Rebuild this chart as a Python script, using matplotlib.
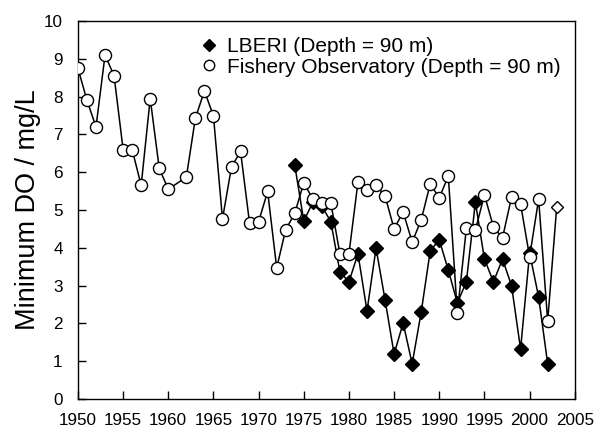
'''

  Minimum DO at 90 m depth: LBERI vs Fishery Observatory

'''

import numpy as np
from matplotlib import pyplot as plt
from matplotlib.lines import Line2D
from matplotlib import font_manager

plt.rcParams['font.family'] = ['Liberation Sans', 'DejaVu Sans']

# Fishery Observatory (1961 missing)
fish_year = [1950, 1951, 1952, 1953, 1954, 1955, 1956, 1957, 1958, 1959, 1960,
             1962, 1963, 1964, 1965, 1966, 1967, 1968, 1969, 1970, 1971, 1972,
             1973, 1974, 1975, 1976, 1977, 1978, 1979, 1980, 1981, 1982, 1983,
             1984, 1985, 1986, 1987, 1988, 1989, 1990, 1991, 1992, 1993, 1994,
             1995, 1996, 1997, 1998, 1999, 2000, 2001, 2002]
fish_do = [8.75, 7.9, 7.2, 9.1, 8.55, 6.6, 6.6, 5.65, 7.95, 6.1, 5.55,
           5.87, 7.43, 8.15, 7.49, 4.76, 6.14, 6.55, 4.65, 4.69, 5.49, 3.47,
           4.48, 4.91, 5.72, 5.29, 5.18, 5.18, 3.84, 3.84, 5.74, 5.53, 5.66,
           5.37, 4.50, 4.95, 4.15, 4.74, 5.69, 5.32, 5.90, 2.27, 4.52, 4.47,
           5.40, 4.55, 4.26, 5.34, 5.16, 3.76, 5.29, 2.06]

# last Fishery value, shown as open diamond
last_year = 2003
last_do = 5.08

# LBERI
lberi_year = [1974, 1975, 1976, 1977, 1978, 1979, 1980, 1981, 1982, 1983, 1984,
              1985, 1986, 1987, 1988, 1989, 1990, 1991, 1992, 1993, 1994, 1995,
              1996, 1997, 1998, 1999, 2000, 2001, 2002]
lberi_do = [6.19, 4.71, 5.2, 5.1, 4.69, 3.36, 3.10, 3.84, 2.33, 3.99, 2.62,
            1.19, 2.01, 0.93, 2.30, 3.92, 4.21, 3.41, 2.54, 3.10, 5.21, 3.70,
            3.10, 3.70, 3.00, 1.32, 3.86, 2.70, 0.93]

# narrow face for tick labels if it is there
names = set(f.name for f in font_manager.fontManager.ttflist)
narrow = 'Liberation Sans Narrow' in names
tick_family = 'Liberation Sans Narrow' if narrow else 'Liberation Sans'
tick_size = 14.5 if narrow else 12.3

fig = plt.figure(figsize=(5.95, 4.29), dpi=100)
ax = fig.add_axes([0.131, 0.070, 0.835, 0.881])

ax.plot(lberi_year, lberi_do, 'k-', linewidth=1.1, marker='D', markersize=7.5,
        markerfacecolor='black', markeredgecolor='black', zorder=3)
ax.plot(fish_year + [last_year], fish_do + [last_do], 'k-', linewidth=1.1, zorder=4)
ax.plot(fish_year, fish_do, linestyle='none', marker='o', markersize=8.7,
        markerfacecolor='white', markeredgecolor='black', markeredgewidth=1.0, zorder=5)
ax.plot([last_year], [last_do], linestyle='none', marker='D', markersize=6.5,
        markerfacecolor='white', markeredgecolor='black', markeredgewidth=1.0, zorder=5)

ax.set_xlim(1950, 2005)
ax.set_ylim(0, 10)
ax.set_xticks(np.arange(1950, 2006, 5))
ax.set_yticks(np.arange(0, 11, 1))
ax.tick_params(direction='in', length=6, width=1,
               labelsize=tick_size, labelfontfamily=tick_family)
ax.tick_params(axis='x', pad=10)
ax.tick_params(axis='y', pad=11)
for sp in ax.spines.values():
    sp.set_linewidth(1.0)
ax.set_ylabel('Minimum DO / mg/L', fontsize=19.5, labelpad=2)

handles = [Line2D([], [], linestyle='none', marker='D', markersize=6,
                  markerfacecolor='black', markeredgecolor='black'),
           Line2D([], [], linestyle='none', marker='o', markersize=7.5,
                  markerfacecolor='white', markeredgecolor='black')]
ax.legend(handles, ['LBERI (Depth = 90 m)', 'Fishery Observatory (Depth = 90 m)'],
          loc='upper left', bbox_to_anchor=(0.218, 0.995), frameon=False,
          fontsize=15, handlelength=0.8, handletextpad=0.45, labelspacing=0.05,
          borderaxespad=0.3)

plt.savefig('out.png', dpi=100)
